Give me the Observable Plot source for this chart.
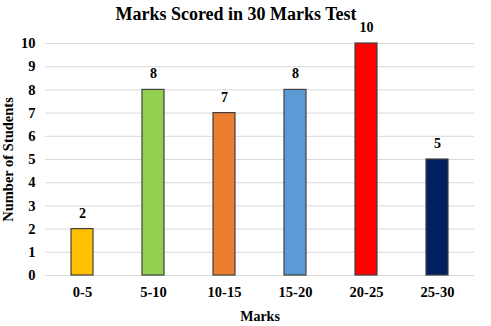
<!DOCTYPE html>
<html>
<head>
<meta charset="utf-8">
<script src="https://cdn.jsdelivr.net/npm/d3@7"></script>
<script src="https://cdn.jsdelivr.net/npm/@observablehq/plot@0.6"></script>
<style>
  body { margin: 0; background: #fff; }
</style>
</head>
<body>
<div id="chart"></div>
<script>
const categories = ["0-5", "5-10", "10-15", "15-20", "20-25", "25-30"];
const students = [2, 8, 7, 8, 10, 5];
const barColors = ["#FFC000", "#92D050", "#ED7D31", "#5B9BD5", "#FF0000", "#002060"];
const yTicks = [0, 1, 2, 3, 4, 5, 6, 7, 8, 9, 10];
const title = "Marks Scored in 30 Marks Test";
const xLabel = "Marks";
const yLabel = "Number of Students";

const data = categories.map((c, i) => ({category: c, value: students[i]}));
const serif = "'Liberation Serif', 'Times New Roman', serif";

const chart = Plot.plot({
  width: 491,
  height: 326,
  marginLeft: 45,
  marginRight: 17,
  marginTop: 43,
  marginBottom: 51,
  style: {
    fontFamily: serif,
    fontWeight: "bold",
    fontSize: "14px",
    color: "#000",
    background: "#fff"
  },
  x: {domain: categories, paddingInner: 0.69, paddingOuter: 0.345, label: null},
  y: {domain: [0, 10], label: null},
  color: {domain: categories, range: barColors},
  marks: [
    Plot.ruleY(yTicks, {stroke: "#d9d9d9", strokeWidth: 1}),
    Plot.barY(data, {x: "category", y: "value", fill: "category", stroke: "#404040", strokeWidth: 1.2}),
    Plot.text(data, {x: "category", y: "value", text: d => String(d.value), dy: -16, fill: "#000", fontSize: 14, fontFamily: serif, fontWeight: "bold"}),
    Plot.axisY(yTicks, {tickSize: 0, tickPadding: 10, label: null, fontSize: 14.5, fill: "#000", fontFamily: serif, fontWeight: "bold"}),
    Plot.axisX({tickSize: 0, tickPadding: 11, label: null, fontSize: 14.5, fill: "#000", fontFamily: serif, fontWeight: "bold"}),
    Plot.text([title], {frameAnchor: "top", lineAnchor: "middle", dx: -24, dy: -29, fontSize: 18, fill: "#000", fontFamily: serif, fontWeight: "bold"}),
    Plot.text([xLabel], {frameAnchor: "bottom", lineAnchor: "middle", dy: 41, fontSize: 14, fill: "#000", fontFamily: serif, fontWeight: "bold"}),
    Plot.text([yLabel], {frameAnchor: "left", textAnchor: "middle", lineAnchor: "middle", dx: -37, rotate: -90, fontSize: 14.5, fill: "#000", fontFamily: serif, fontWeight: "bold"})
  ]
});
document.getElementById("chart").appendChild(chart);
</script>
</body>
</html>
